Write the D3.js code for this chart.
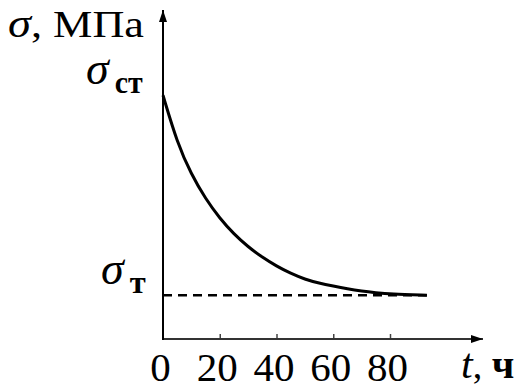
<!DOCTYPE html>
<html>
<head>
<meta charset="utf-8">
<script src="https://cdn.jsdelivr.net/npm/d3@7"></script>
<style>
  html, body { margin: 0; padding: 0; background: #fff; }
  svg { display: block; font-family: "Liberation Serif", "Times New Roman", serif; }
</style>
</head>
<body>
<svg id="chart" width="526" height="390"></svg>
<script>
// time, h
const tValues = [0, 5, 10, 15, 20, 25, 30, 35, 40, 45, 50, 55, 60, 65, 70, 75, 80, 93];
// stress, relative units (sigma_st = 100)
const sigmaValues = [100, 80.5, 67.5, 57.5, 49.5, 43, 37.8, 33.5, 29.9, 26.9, 24.5, 22.9, 21.7, 20.6, 19.7, 19, 18.4, 18];
const tTicks = [0, 20, 40, 60, 80];
const sigmaSt = 100;
const sigmaT = 18;

const svg = d3.select('#chart');

const x = d3.scaleLinear().domain([0, 80]).range([163, 390]);
const y = d3.scaleLinear().domain([0, 135]).range([339, 10]);

// arrow heads
svg.append('defs').append('marker')
  .attr('id', 'arrow')
  .attr('viewBox', '0 0 12 8')
  .attr('refX', 12)
  .attr('refY', 4)
  .attr('markerWidth', 12)
  .attr('markerHeight', 8)
  .attr('markerUnits', 'userSpaceOnUse')
  .attr('orient', 'auto')
  .append('path')
  .attr('d', 'M0,0 L12,4 L0,8 Z')
  .attr('fill', '#000');

// x axis, ticks pointing up
const xAxis = d3.axisBottom(x)
  .tickValues(tTicks)
  .tickSize(-5)
  .tickSizeOuter(0)
  .tickFormat(d3.format('d'));

const gx = svg.append('g')
  .attr('transform', `translate(0,${y(0)})`)
  .call(xAxis);
gx.attr('font-family', null).attr('font-size', null);
gx.select('.domain').remove();
gx.selectAll('.tick line').attr('stroke', '#444').attr('stroke-width', 1.5);
gx.selectAll('.tick').filter(d => d === 0).select('line').remove();
gx.selectAll('.tick text')
  .attr('y', 42)
  .attr('dy', 0)
  .attr('dx', -3)
  .attr('fill', '#000')
  .style('font-family', '"Liberation Serif", serif')
  .style('font-size', '41px');

// axis lines
svg.append('line')
  .attr('x1', x(0)).attr('y1', y(0))
  .attr('x2', 483).attr('y2', y(0))
  .attr('stroke', '#333').attr('stroke-width', 2)
  .attr('marker-end', 'url(#arrow)');
svg.append('line')
  .attr('x1', x(0)).attr('y1', y(0) + 1)
  .attr('x2', x(0)).attr('y2', y(135))
  .attr('stroke', '#000').attr('stroke-width', 2)
  .attr('marker-end', 'url(#arrow)');

// sigma_T level
svg.append('line')
  .attr('x1', x(0)).attr('y1', y(sigmaT))
  .attr('x2', x(d3.max(tValues))).attr('y2', y(sigmaT))
  .attr('stroke', '#000').attr('stroke-width', 2.5)
  .attr('stroke-dasharray', '9,6');

// relaxation curve
const data = tValues.map((t, i) => ({ t, s: sigmaValues[i] }));
const line = d3.line()
  .x(d => x(d.t))
  .y(d => y(d.s))
  .curve(d3.curveBasis);

svg.append('path')
  .datum(data)
  .attr('d', line)
  .attr('fill', 'none')
  .attr('stroke', '#000')
  .attr('stroke-width', 3);

// y labels
function sigmaLabel(xPos, val, sub, subLen) {
  const t = svg.append('text')
    .attr('x', xPos)
    .attr('y', y(val) - 11)
    .attr('fill', '#000');
  t.append('tspan')
    .style('font-style', 'italic')
    .style('font-size', '46px')
    .text('σ');
  t.append('tspan')
    .attr('dy', 9)
    .attr('dx', 6)
    .attr('textLength', subLen)
    .attr('lengthAdjust', 'spacingAndGlyphs')
    .style('font-size', '32px')
    .style('font-weight', 'bold')
    .text(sub);
}
sigmaLabel(86, sigmaSt, 'ст', 28);
sigmaLabel(101, sigmaT, 'т', 16);

// axis titles
const yt = svg.append('text')
  .attr('x', 8).attr('y', 37)
  .attr('fill', '#000')
  .attr('textLength', 136)
  .attr('lengthAdjust', 'spacingAndGlyphs');
yt.append('tspan').style('font-style', 'italic').style('font-size', '40px').text('σ');
yt.append('tspan').style('font-size', '38px').text(', МПа');

const xt = svg.append('text').attr('x', 461).attr('y', 378).attr('fill', '#000');
xt.append('tspan').style('font-style', 'italic').style('font-size', '42px').text('t');
xt.append('tspan').style('font-size', '38px').text(', ');
xt.append('tspan').style('font-size', '40px').style('font-weight', 'bold').text('ч');
</script>
</body>
</html>
